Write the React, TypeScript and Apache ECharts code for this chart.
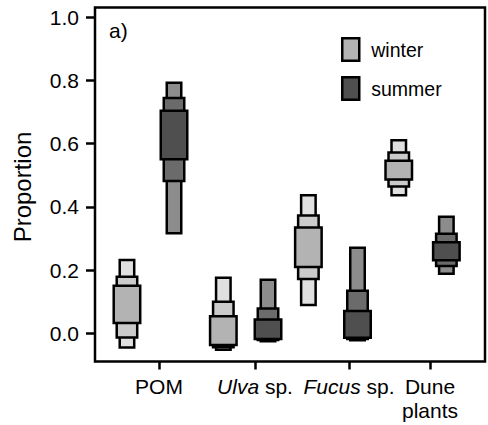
import React, { useEffect, useRef } from "react";
import * as echarts from "echarts";

const sources = ["POM", "Ulva sp.", "Fucus sp.", "Dune plants"];
const tickX = [1.073, 2.136, 3.177, 4.074];
const winterX = [0.718, 1.785, 2.727, 3.728];
const summerX = [1.239, 2.28, 3.271, 4.255];

// credibility intervals: 95%, 75%, 50%
const winter95Low = [-0.045, -0.052, 0.09, 0.437];
const winter95High = [0.232, 0.176, 0.437, 0.611];
const winter75Low = [-0.013, -0.044, 0.172, 0.465];
const winter75High = [0.179, 0.1, 0.373, 0.572];
const winter50Low = [0.033, -0.037, 0.21, 0.487];
const winter50High = [0.151, 0.054, 0.335, 0.546];

const summer95Low = [0.317, -0.025, -0.022, 0.189];
const summer95High = [0.793, 0.17, 0.271, 0.369];
const summer75Low = [0.482, -0.021, -0.018, 0.213];
const summer75High = [0.745, 0.079, 0.135, 0.315];
const summer50Low = [0.551, -0.018, -0.014, 0.231];
const summer50High = [0.704, 0.044, 0.071, 0.288];

const yTicks = [0, 0.2, 0.4, 0.6, 0.8, 1.0];

const FONT = "'Liberation Sans', Arial, Helvetica, sans-serif";
const winterColors = ["#e0e0e0", "#cbcbcb", "#b3b3b3"];
const summerColors = ["#8c8c8c", "#6b6b6b", "#4f4f4f"];
const boxWidths = [14.5, 20.5, 26.5];

function makeRender(colors: string[]) {
  return (params: any, api: any) => {
    const x = api.value(0);
    const cx = api.coord([x, 0])[0];
    const children = [0, 1, 2].map((k) => {
      const lo = api.value(1 + 2 * k);
      const hi = api.value(2 + 2 * k);
      const y1 = api.coord([x, hi])[1];
      const y2 = api.coord([x, lo])[1];
      const w = boxWidths[k];
      return {
        type: "rect",
        shape: { x: cx - w / 2, y: y1, width: w, height: y2 - y1 },
        style: { fill: colors[k], stroke: "#000", lineWidth: 2.5 },
      };
    });
    return { type: "group", children };
  };
}

export default function App() {
  const ref = useRef<HTMLDivElement>(null);
  useEffect(() => {
    if (!ref.current) return;
    const chart = echarts.init(ref.current, null, { renderer: "svg" });
    const winterData = winterX.map((x, i) => [
      x, winter95Low[i], winter95High[i], winter75Low[i], winter75High[i], winter50Low[i], winter50High[i],
    ]);
    const summerData = summerX.map((x, i) => [
      x, summer95Low[i], summer95High[i], summer75Low[i], summer75High[i], summer50Low[i], summer50High[i],
    ]);
    chart.setOption({
      animation: false,
      textStyle: { fontFamily: FONT, color: "#000" },
      grid: {
        left: 95,
        right: 3,
        top: 7.5,
        bottom: 63.5,
        show: true,
        borderColor: "#000",
        borderWidth: 2.5,
        containLabel: false,
        outerBoundsMode: "none",
      },
      legend: {
        orient: "vertical",
        left: 341,
        top: 37,
        padding: 0,
        icon: "rect",
        itemWidth: 17,
        itemHeight: 22.5,
        itemGap: 14,
        itemStyle: { borderColor: "#000", borderWidth: 2.5 },
        textStyle: { fontSize: 19.5, fontFamily: FONT, color: "#000", padding: [0, 0, 0, 7] },
        data: ["winter", "summer"],
      },
      xAxis: {
        type: "value",
        min: 0.364,
        max: 4.683,
        splitLine: { show: false },
        axisLine: { show: false, onZero: false },
        axisTick: {
          show: true,
          customValues: tickX,
          length: 8,
          lineStyle: { color: "#000", width: 2.5 },
        },
        axisLabel: {
          customValues: tickX,
          margin: 13,
          fontSize: 21,
          color: "#000",
          fontFamily: FONT,
          formatter: (v: number) => {
            const i = tickX.indexOf(v);
            const s = sources[i] ?? "";
            if (s === "Ulva sp.") return "{i|Ulva}{n| sp.}";
            if (s === "Fucus sp.") return "{i|Fucus}{n| sp.}";
            if (s === "Dune plants") return "{n|Dune}\n{n|plants}";
            return "{n|" + s + "}";
          },
          rich: {
            i: { fontStyle: "italic", fontSize: 21, fontFamily: FONT, color: "#000", lineHeight: 24 },
            n: { fontSize: 21, fontFamily: FONT, color: "#000", lineHeight: 24 },
          },
        },
      },
      yAxis: {
        type: "value",
        min: -0.089,
        max: 1.031,
        splitLine: { show: false },
        axisLine: { show: false, onZero: false },
        axisTick: {
          show: true,
          customValues: yTicks,
          length: 9,
          lineStyle: { color: "#000", width: 2.5 },
        },
        axisLabel: {
          customValues: yTicks,
          margin: 16,
          fontSize: 21,
          color: "#000",
          fontFamily: FONT,
          formatter: (v: number) => v.toFixed(1),
        },
      },
      graphic: [
        {
          type: "text",
          x: 109,
          y: 20,
          style: { text: "a)", fontSize: 21, fontFamily: FONT, fill: "#000" },
        },
        {
          type: "text",
          x: 22,
          y: 187,
          rotation: Math.PI / 2,
          style: {
            text: "Proportion",
            fontSize: 24,
            fontFamily: FONT,
            fill: "#000",
            align: "center",
            verticalAlign: "middle",
          },
        },
      ],
      series: [
        {
          name: "winter",
          type: "custom",
          renderItem: makeRender(winterColors),
          itemStyle: { color: winterColors[2] },
          encode: { x: 0, y: [1, 2] },
          data: winterData,
        },
        {
          name: "summer",
          type: "custom",
          renderItem: makeRender(summerColors),
          itemStyle: { color: summerColors[2] },
          encode: { x: 0, y: [1, 2] },
          data: summerData,
        },
      ],
    });
    return () => chart.dispose();
  }, []);
  return (
    <div
      ref={ref}
      style={{ position: "fixed", left: 0, top: 0, width: 488, height: 425, background: "#fff" }}
    />
  );
}
